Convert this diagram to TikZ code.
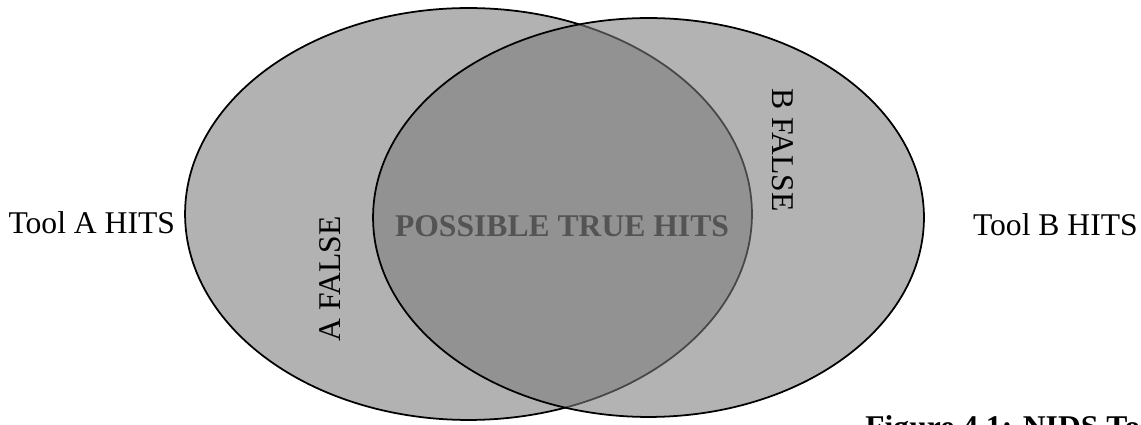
\documentclass[tikz,border=0pt]{standalone}
\usepackage{fontspec}
\setmainfont{Liberation Serif}
\usetikzlibrary{positioning,shapes.geometric}
\definecolor{setfill}{gray}{0.70}
\definecolor{overfill}{gray}{0.486}
\definecolor{truetext}{gray}{0.33}
\tikzset{
  vennset/.style={ellipse,draw=black,line width=1pt,inner sep=0pt},
  hitlabel/.style={font=\fontsize{18}{21}\selectfont},
  falselabel/.style={font=\fontsize{18}{21}\selectfont,inner sep=0pt}
}
\begin{document}
\begin{tikzpicture}[x=0.02cm,y=0.02cm]
\useasboundingbox (0,0) rectangle (1141,425);
\node[vennset,fill=setfill,minimum width=11.34cm,minimum height=8.24cm] (setA) at (468.5,211) {};
\node[vennset,fill=overfill,fill opacity=0.58,minimum width=11.02cm,minimum height=7.98cm] (setB) at (648.5,207.5) {};
\node[hitlabel,left=0.06cm of setA.west,anchor=east,yshift=-0.18cm] (toolA) {Tool A HITS};
\node[hitlabel,right=0.84cm of setB.east,anchor=west,yshift=-0.14cm] (toolB) {Tool B HITS};
\node[falselabel,rotate=90] (falseA) at (330,146) {A FALSE};
\node[falselabel,rotate=-90] (falseB) at (783,275) {B FALSE};
\node[hitlabel,font=\fontsize{18}{21}\selectfont\bfseries,text=truetext] (truehits) at (562,199) {POSSIBLE TRUE HITS};
\node[hitlabel,font=\fontsize{18}{21}\selectfont\bfseries,anchor=base west,inner sep=0pt] (caption) at (865,-13) {Figure 4.1: NIDS To};
\end{tikzpicture}
\end{document}
